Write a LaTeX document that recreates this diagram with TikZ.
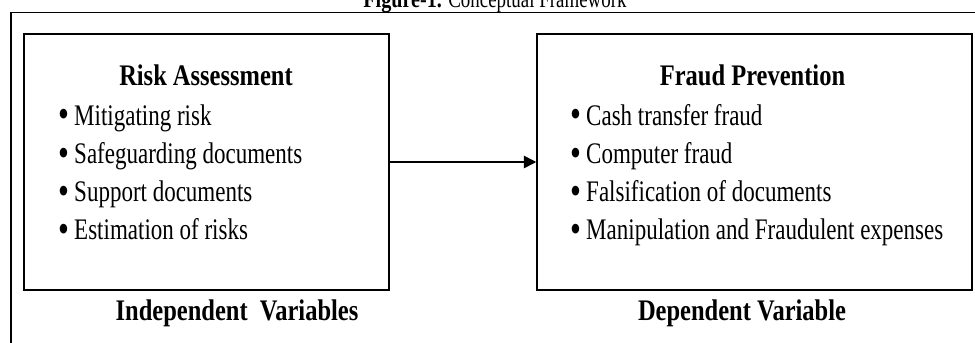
\documentclass[tikz,border=0pt]{standalone}
\usepackage{fontspec}
\setmainfont{Liberation Serif}[FakeStretch=0.77,BoldFeatures={FakeStretch=0.82}]
\usepackage{tikz}
\usetikzlibrary{arrows.meta}

\newcommand{\bigdot}{\raisebox{-1.6pt}{\fontsize{23}{23}\selectfont\textbullet}}

\tikzset{
  varbox/.style={rectangle, black, draw, line width=0.9pt, minimum height=5.12cm},
  boxhead/.style={anchor=base, inner sep=0pt, font=\bfseries\fontsize{17}{20}\selectfont},
  bullitem/.style={anchor=base west, inner sep=0pt, font=\fontsize{17}{20}\selectfont},
  varlabel/.style={anchor=base, inner sep=0pt, font=\bfseries\fontsize{17}{20}\selectfont}
}

\begin{document}
\begin{tikzpicture}[x=0.02cm, y=-0.02cm]
        \useasboundingbox (0,0) rectangle (975,342);
        \node[anchor=base, inner sep=0pt] (fig) at (495,7) {\fontsize{14}{16}\selectfont\textbf{Figure-1.} Conceptual Framework};
        \draw[line width=1.1pt] (11,360) -- (11,12.5) -- (990,12.5);

        % the two boxes
        \node(risk)[varbox, minimum width=7.3cm] at (206.5,162) {};
        \node(fraud)[varbox, minimum width=8.7cm] at (754.5,162) {};
        \draw[-{Triangle[length=7pt, width=7pt]}, line width=0.9pt] (risk) -- (fraud);

        \node(riskhead)[boxhead] at (206,85) {Risk Assessment};
        \node(r1)[bullitem] at (58,125) {\bigdot\,Mitigating risk};
        \node(r2)[bullitem] at (58,163.3) {\bigdot\,Safeguarding documents};
        \node(r3)[bullitem] at (58,201.7) {\bigdot\,Support documents};
        \node(r4)[bullitem] at (58,239.3) {\bigdot\,Estimation of risks};

        \node(fraudhead)[boxhead] at (752.5,85) {Fraud Prevention};
        \node(f1)[bullitem] at (570,125) {\bigdot\,Cash transfer fraud};
        \node(f2)[bullitem] at (570,163.3) {\bigdot\,Computer fraud};
        \node(f3)[bullitem] at (570,201.7) {\bigdot\,Falsification of documents};
        \node(f4)[bullitem] at (570,239.3) {\bigdot\,Manipulation and Fraudulent expenses};

        % labels under the boxes
        \node(indep)[varlabel] at (237,320) {Independent\ \ Variables};
        \node(dep)[varlabel] at (742,320) {Dependent Variable};
\end{tikzpicture}
\end{document}
